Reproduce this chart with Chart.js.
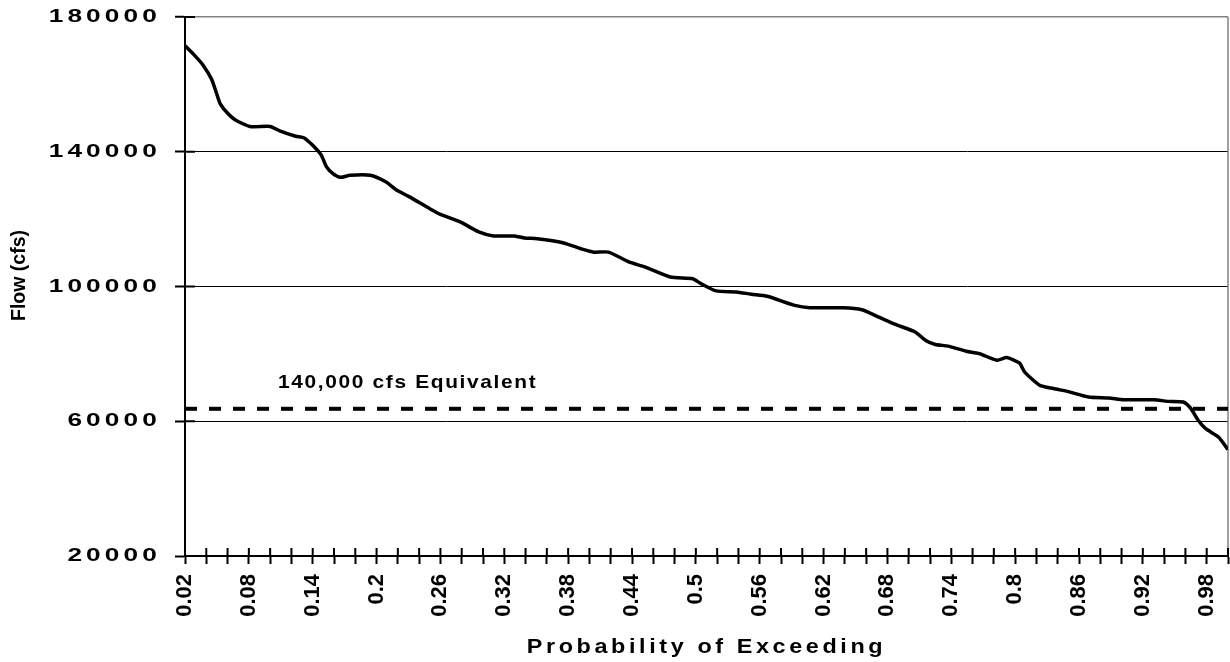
<!DOCTYPE html>
<html>
<head>
<meta charset="utf-8">
<title>Probability of Exceeding</title>
<script src="https://cdn.jsdelivr.net/npm/chart.js@4.4.1/dist/chart.umd.min.js"></script>
<style>
  html, body { margin: 0; padding: 0; background: #fff; }
  #chart-container { position: relative; width: 1230px; height: 662px; }
</style>
</head>
<body>
<div id="chart-container"><canvas id="myChart"></canvas></div>
<script>
// values
const probability = [0.02, 0.029, 0.037, 0.045, 0.05, 0.053, 0.059, 0.067, 0.081, 0.1,
  0.109, 0.124, 0.132, 0.14, 0.148, 0.153, 0.159, 0.166, 0.175, 0.194,
  0.209, 0.218, 0.231, 0.25, 0.26, 0.279, 0.296, 0.31, 0.329, 0.339,
  0.351, 0.375, 0.394, 0.404, 0.418, 0.437, 0.452, 0.476, 0.497, 0.504,
  0.519, 0.538, 0.552, 0.567, 0.593, 0.607, 0.638, 0.656, 0.672, 0.687,
  0.706, 0.716, 0.725, 0.737, 0.754, 0.766, 0.783, 0.792, 0.804, 0.809,
  0.823, 0.836, 0.85, 0.869, 0.888, 0.902, 0.931, 0.943, 0.958, 0.965,
  0.972, 0.979, 0.991, 1.0];
const flow = [171500, 168600, 165700, 161500, 157000, 154300, 151800, 149500, 147500, 147500,
  146200, 144600, 144100, 141900, 139000, 135500, 133500, 132400, 133000, 133000,
  131000, 128800, 126600, 123100, 121400, 119100, 116200, 115000, 115000, 114400,
  114200, 113000, 111000, 110200, 110200, 107300, 105800, 102800, 102300, 101000,
  98700, 98400, 97700, 97100, 94400, 93700, 93700, 93100, 90900, 88800,
  86500, 84000, 82800, 82300, 80800, 80100, 78100, 78900, 77300, 74600,
  70700, 69700, 68800, 67200, 66900, 66400, 66400, 65900, 65700, 63800,
  60300, 57800, 55300, 51600];
const equivalentRange = [0.02, 1.0];
const equivalentFlow = 63700;
const equivalentLabel = "140,000 cfs Equivalent";
const yTicks = [20000, 180000, 40000]; // min, max, step
const xTicks = [0.02, 1.0, 0.02];

const FONT = "'Liberation Sans', Arial, sans-serif";
Chart.defaults.font.family = FONT;
Chart.defaults.color = "#000";

// horizontal text in the original is wide and spaced out: stretch it round an anchor
function stretchMethod(scale, method, opts) {
  const orig = scale[method];
  scale[method] = function (area) {
    const ctx = this.ctx;
    const ax = opts.anchor(this);
    ctx.save();
    ctx.translate(ax, opts.dy || 0);
    ctx.scale(opts.factor, 1);
    ctx.translate(-ax, 0);
    ctx.letterSpacing = (opts.spacing || 0) + "px";
    orig.call(this, area);
    ctx.restore();
  };
}

const stretchPlugin = {
  id: "stretch",
  afterLayout(chart) {
    const y = chart.scales.y;
    const x = chart.scales.x;
    if (!y._stretched) {
      stretchMethod(y, "drawLabels", { factor: 1.38, spacing: 3, anchor: (s) => s.right - 24 });
      // y title sits a little above the middle of the axis in the original
      stretchMethod(y, "drawTitle", { factor: 1, dy: -11, anchor: () => 0 });
      y._stretched = true;
    }
    if (!x._stretched) {
      stretchMethod(x, "drawTitle", { factor: 1.2, spacing: 3, anchor: (s) => (s.left + s.right) / 2 });
      x._stretched = true;
    }
  },
};

// tick marks that cross the axis, grey plot border on the right, text box label
const axisPlugin = {
  id: "axisExtras",
  beforeDatasetsDraw(chart) {
    const { ctx, chartArea, scales } = chart;
    ctx.save();
    ctx.strokeStyle = "#808080";
    ctx.lineWidth = 1.5;
    ctx.beginPath();
    ctx.moveTo(chartArea.right, chartArea.top);
    ctx.lineTo(chartArea.right, chartArea.bottom);
    ctx.stroke();

    ctx.strokeStyle = "#000";
    ctx.lineWidth = 2;
    ctx.beginPath();
    scales.x.ticks.forEach((t, i) => {
      const px = scales.x.getPixelForTick(i);
      ctx.moveTo(px, chartArea.bottom);
      ctx.lineTo(px, chartArea.bottom - 8);
    });
    scales.y.ticks.forEach((t, i) => {
      const py = scales.y.getPixelForTick(i);
      ctx.moveTo(chartArea.left, py);
      ctx.lineTo(chartArea.left + 10, py);
    });
    ctx.stroke();
    ctx.restore();
  },
  afterDatasetsDraw(chart) {
    const { ctx, chartArea, scales } = chart;
    const py = scales.y.getPixelForValue(equivalentFlow);
    const tx = chartArea.left + 93;
    ctx.save();
    ctx.font = "bold 19px " + FONT;
    ctx.fillStyle = "#000";
    ctx.textAlign = "left";
    ctx.textBaseline = "alphabetic";
    ctx.letterSpacing = "1.5px";
    ctx.translate(tx, 0);
    ctx.scale(1.1, 1);
    ctx.fillText(equivalentLabel, 0, py - 21);
    ctx.restore();
  },
};

const ctx = document.getElementById("myChart").getContext("2d");
const myChart = new Chart(ctx, {
  type: "line",
  data: {
    datasets: [
      {
        label: "Flow",
        data: probability.map((p, i) => ({ x: p, y: flow[i] })),
        borderColor: "#000",
        borderWidth: 3.5,
        pointRadius: 0,
        tension: 0.2,
        fill: false,
      },
      {
        label: equivalentLabel,
        data: equivalentRange.map((p) => ({ x: p, y: equivalentFlow })),
        borderColor: "#000",
        borderWidth: 4,
        borderDash: [12, 12],
        pointRadius: 0,
        fill: false,
      },
    ],
  },
  options: {
    responsive: true,
    maintainAspectRatio: false,
    animation: false,
    events: [],
    layout: { padding: { left: 0, right: 2, top: 17, bottom: 0 } },
    plugins: {
      legend: { display: false },
      tooltip: { enabled: false },
    },
    scales: {
      x: {
        type: "linear",
        min: xTicks[0],
        max: xTicks[1],
        border: { color: "#000", width: 2 },
        grid: {
          drawOnChartArea: false,
          drawTicks: true,
          tickLength: 8,
          tickWidth: 2,
          tickColor: "#000",
        },
        ticks: {
          stepSize: xTicks[2],
          autoSkip: false,
          minRotation: 90,
          maxRotation: 90,
          padding: 10,
          font: { size: 22, weight: "bold" },
          callback: (value, index) =>
            index % 3 === 0 ? String(Math.round(value * 100) / 100) : "",
        },
        title: {
          display: true,
          text: "Probability of Exceeding",
          font: { size: 19.5, weight: "bold" },
          padding: { top: 0, bottom: 3 },
        },
        afterFit(scale) {
          scale.height = 106;
          scale.paddingLeft = 0;
          scale.paddingRight = 0;
        },
      },
      y: {
        min: yTicks[0],
        max: yTicks[1],
        border: { color: "#000", width: 2 },
        grid: {
          color: (c) => (c.tick && c.tick.value === yTicks[1] ? "#808080" : "#000"),
          lineWidth: (c) => (c.tick && c.tick.value === yTicks[1] ? 1.5 : 1),
          tickLength: 10,
          tickWidth: 2,
          tickColor: "#000",
        },
        ticks: {
          stepSize: yTicks[2],
          padding: 14,
          font: { size: 19, weight: "bold" },
          callback: (value) => String(value),
        },
        title: {
          display: true,
          text: "Flow (cfs)",
          font: { size: 19.5, weight: "bold" },
          padding: { top: 8, bottom: 0 },
        },
        afterFit(scale) {
          scale.width = 185;
          scale.paddingTop = 0;
          scale.paddingBottom = 0;
        },
      },
    },
  },
  plugins: [stretchPlugin, axisPlugin],
});
</script>
</body>
</html>
